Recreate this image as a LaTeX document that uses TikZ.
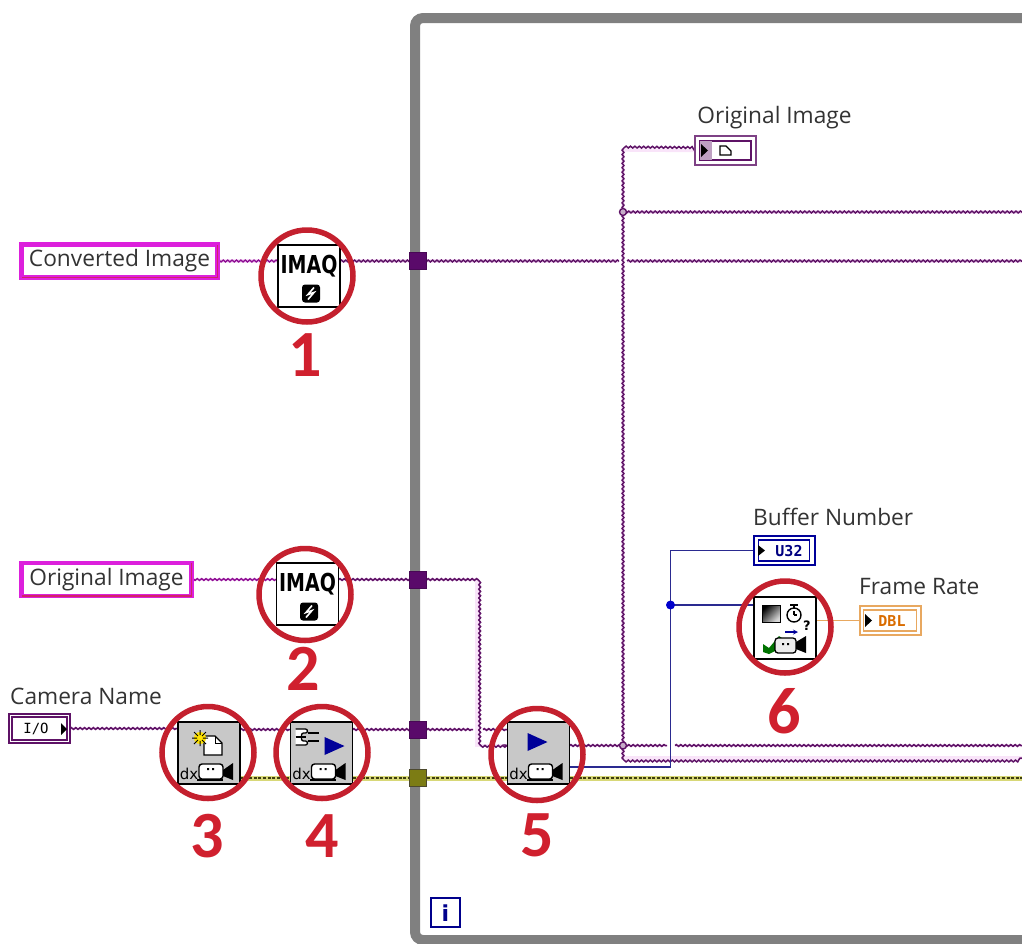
\documentclass[tikz,border=0pt]{standalone}
\usepackage{fontspec}
\setmainfont{Open Sans}
\newfontfamily\numfont{Carlito}
\newfontfamily\boxfont{DejaVu Sans}
\newfontfamily\codefont{DejaVu Sans Mono}
\usetikzlibrary{decorations.pathmorphing,calc}
\pgfdeclarelayer{framelayer}
\pgfdeclarelayer{wirelayer}
\pgfsetlayers{framelayer,wirelayer,main}
\definecolor{framegray}{HTML}{808080}
\definecolor{wirec}{HTML}{5E1266}
\definecolor{wirehalo}{HTML}{F9E4F9}
\definecolor{tunnelp}{HTML}{5A0A6A}
\definecolor{tunnelo}{HTML}{7C7C14}
\definecolor{magbox}{HTML}{DC20DC}
\definecolor{ringred}{HTML}{C4202E}
\definecolor{numred}{HTML}{D0202E}
\definecolor{iconblue}{HTML}{10108A}
\definecolor{bluewire}{HTML}{2A2A90}
\definecolor{orangew}{HTML}{E8A860}
\definecolor{grayicon}{HTML}{C8C8C8}
\definecolor{textgray}{HTML}{333333}
\definecolor{olivepale}{HTML}{D8D878}
\definecolor{olivedark}{HTML}{3E3E10}
\tikzset{
  x=1pt,y=-1pt,
  wire/.style={draw=wirehalo,line width=3.4pt,postaction={draw=wirec,line width=1.5pt,decorate,decoration={snake,segment length=4.4pt,amplitude=.9pt}}},
  magwire/.style={draw=wirehalo,line width=3.4pt,postaction={draw=wirec!70!magenta,line width=1.4pt,decorate,decoration={snake,segment length=4.4pt,amplitude=.9pt}}},
  olivewire/.style={draw=olivepale,line width=5pt,postaction={draw=olivedark,line width=2.6pt,dash pattern=on 3pt off 1.6pt}},
  bluew/.style={draw=bluewire,line width=1.5pt},
  orangewire/.style={draw=orangew,line width=1.4pt},
  tunnel/.style={draw=tunnelp!80!black,fill=tunnelp,minimum size=17pt,inner sep=0pt,outer sep=0pt},
  tunnelol/.style={draw=black!60!olive,fill=tunnelo,minimum size=17pt,inner sep=0pt,outer sep=0pt},
  whitebox/.style={draw=black,fill=white,line width=1.1pt,minimum size=62pt,inner sep=0pt,outer sep=0pt},
  graybox/.style={draw=black,fill=grayicon,line width=1.1pt,minimum size=62pt,inner sep=0pt,outer sep=0pt},
  ring/.style={draw=ringred,line width=5.5pt,circle,minimum size=92pt,inner sep=0pt,outer sep=0pt},
  num/.style={text=numred,font=\fontsize{66}{66}\selectfont\numfont\bfseries,inner sep=0pt},
  lbl/.style={text=textgray,font=\fontsize{22.7}{25}\selectfont,inner sep=0pt},
  magctl/.style={draw=magbox,line width=4.4pt,fill=white,text=textgray,font=\fontsize{22.7}{25}\selectfont,inner sep=0pt,outer sep=0pt,minimum height=33pt},
  termbox/.style={line width=2pt,fill=white,inner sep=0pt,outer sep=0pt,minimum height=29pt,minimum width=61pt},
  juncp/.style={circle,draw=wirec,fill=wirec!35,line width=1.4pt,minimum size=7pt,inner sep=0pt,outer sep=0pt},
  juncb/.style={circle,fill=blue!80!black,minimum size=9pt,inner sep=0pt,outer sep=0pt},
  imaqtext/.style={font=\fontsize{19}{19}\selectfont\boxfont\bfseries,inner sep=0pt},
  codetext/.style={font=\fontsize{15}{15}\selectfont\codefont\bfseries,inner sep=0pt},
  dxcam/.pic={
    \node[font=\fontsize{15}{15}\selectfont\boxfont,inner sep=0pt] at (-20,21) {dx};
    \draw[line width=1.4pt,fill=white,rounded corners=3pt] (-10,11) rectangle (14,26);
    \draw[line width=2.2pt] (-12,27) -- (14,27);
    \fill[black] (14,17) -- (24,10) -- (24,27) -- (14,23) -- cycle;
    \fill[black] (-2,15) rectangle (0,17) (3,15) rectangle (5,17);
  },
  bolt/.pic={
    \fill[black,rounded corners=3pt] (-9,-9) rectangle (9,9);
    \draw[white,line width=1.6pt] (3,-6) -- (-3,1) -- (3,-1) -- (-3,6);
  },
}
\begin{document}
\begin{tikzpicture}
\useasboundingbox (0,0) rectangle (1022,943);
% loop frame
\begin{pgfonlayer}{framelayer}
\coordinate (ftop) at (1022,18);
\coordinate (fbot) at (1022,940);
\draw[framegray,line width=10pt,rounded corners=8pt] (ftop) -- (415,18) -- (415,940) -- (fbot);
\end{pgfonlayer}

% terminals and nodes
\node[magctl,minimum width=196pt] (conv) at (119.5,261) {Converted Image};
\node[magctl,minimum width=170pt] (orig) at (106.5,579.5) {Original Image};
\node[lbl,anchor=west] (camlbl) at (10,696) {Camera Name};
\node[termbox,draw=wirec] (cam) at (39.5,728.5) {};
\node[lbl] (origlbl) at (774.5,118) {Original Image};
\node[termbox,draw=wirec!80] (origind) at (725.5,150.5) {};
\node[lbl,anchor=west] (buflbl) at (753,517) {Buffer Number};
\node[termbox,draw=blue!60!black] (u32) at (784,550.5) {};
\node[lbl,anchor=west] (frlbl) at (859,586) {Frame Rate};
\node[termbox,draw=orangew] (dbl) at (890,620.5) {};

\node[whitebox] (imaq1) at (309,276) {};
\node[whitebox] (imaq2) at (307.5,594) {};
\node[graybox] (b3) at (209,753) {};
\node[graybox] (b4) at (321.5,753) {};
\node[graybox] (b5) at (538.5,753) {};
\node[whitebox] (b6) at (785,628) {};

\node[tunnel] (t1) at (418,261) {};
\node[tunnel] (t2) at (418,579.5) {};
\node[tunnel] (t3) at (418,729.5) {};
\node[tunnelol] (t4) at (418,778) {};

\coordinate (r212) at (1022,212);
\coordinate (r261) at (1022,261);
\coordinate (r745) at (1022,745.5);
\coordinate (r758) at (1022,758);
\coordinate (r778) at (1022,778);
\node[juncp] (j1) at (623,212) {};
\node[juncp] (j2) at (623,745.5) {};
\node[juncb] (j3) at (670.5,605) {};

% wires, behind the boxes
\begin{pgfonlayer}{wirelayer}
\draw[magwire] (conv.east) -- (imaq1.west |- conv.east);
\draw[wire] (imaq1.east |- t1) -- (t1.center);
\draw[wire] (t1.center) -- ($(j1.center |- t1)+(-4,0)$);
\draw[wire] ($(j1.center |- t1)+(4,0)$) -- (r261);
\draw[magwire] (orig.east) -- (imaq2.west |- orig.east);
\draw[wire] (imaq2.east |- t2) -- (t2.center);
\draw[wire] (t2.center) -- (477,579.5) -- (477,745.5) -- (b5.west |- j2);
\draw[wire] (cam.east) -- (b3.west |- cam.east);
\draw[wire] (b3.east |- t3) -- (b4.west |- t3);
\draw[wire] (b4.east |- t3) -- (t3.center);
\draw[wire] (t3.center) -- (473,729.5);
\draw[wire] (483,729.5) -- (b5.west |- t3);
\draw[wire] (b5.east |- j2) -- (j2.center);
\draw[wire] (j2.center) -- (667,745.5);
\draw[wire] (675,745.5) -- (r745);
\draw[wire] (j2.center) -- (623,150) -- (origind.west);
\draw[wire] (j1.center) -- (r212);
\draw[wire] (j2.center) -- (623,758) -- (r758);
\draw[olivewire] (b3.east |- t4) -- (b4.west |- t4);
\draw[olivewire] (b4.east |- t4) -- (t4.center);
\draw[olivewire] (t4.center) -- (b5.west |- t4);
\draw[olivewire] (b5.east |- t4) -- (r778);
\draw[bluew] (b5.east |- 0,767) -- (670.5,767) -- (670.5,550.5) -- (u32.west);
\draw[bluew] (j3.center) -- (b6.west |- j3);
\draw[orangewire] (b6.east |- dbl) -- (dbl.west);
\end{pgfonlayer}

% IMAQ icons
\node[imaqtext] (q1) at (309,266) {\scalebox{1}[1.3]{IMAQ}};
\pic at (311,293.5) {bolt};
\node[imaqtext] (q2) at (307.5,584) {\scalebox{1}[1.3]{IMAQ}};
\pic at (309,611.5) {bolt};

% icon 3
\pic at (b3) {dxcam};
\begin{scope}[shift={(b3)}]
  \draw[line width=1.2pt,fill=white] (-5,-17) -- (6,-17) -- (13,-10) -- (13,2) -- (-5,2) -- cycle;
  \draw[line width=.9pt] (6,-17) -- (6,-10) -- (13,-10);
  \fill[yellow!85!orange] (-9,-15) circle (6pt);
  \draw[black,line width=1pt] (-17,-15) -- (-1,-15) (-9,-23) -- (-9,-7) (-15,-21) -- (-3,-9) (-15,-9) -- (-3,-21);
  \fill[yellow!85!orange] (-9,-15) circle (3pt);
\end{scope}
% icon 4
\pic at (b4) {dxcam};
\begin{scope}[shift={(b4)}]
  \draw[line width=1.3pt,fill=white,rounded corners=2pt] (-26,-24) -- (-14,-24) -- (-14,-20) -- (-20,-20) -- (-20,-12) -- (-14,-12) -- (-14,-8) -- (-26,-8);
  \draw[line width=1.3pt] (-14,-20) -- (-3,-20) (-14,-12) -- (-3,-12) (-26,-16) -- (-16,-16);
  \fill[blue!60!black] (3,-16) -- (23,-7) -- (3,2) -- cycle;
\end{scope}
% icon 5
\pic at (b5) {dxcam};
\begin{scope}[shift={(b5)}]
  \fill[blue!60!black] (-11,-20) -- (9,-11) -- (-11,-2) -- cycle;
\end{scope}
% icon 6
\begin{scope}[shift={(b6)}]
  \shade[left color=black,right color=gray!30,shading angle=45] (-23,-23) rectangle (-5,-6);
  \draw[black,line width=.8pt] (-23,-23) rectangle (-5,-6);
  \draw[line width=1.4pt] (9,-13) circle (7pt);
  \draw[line width=1.2pt] (5,-23) -- (13,-23) (9,-23) -- (9,-20) (9,-13) -- (9,-17) (9,-13) -- (12,-13);
  \node[font=\fontsize{13}{13}\selectfont\boxfont\bfseries,inner sep=0pt] (qm) at (22,-2) {?};
  \draw[blue!60!black,line width=1.2pt,-stealth] (0,4) -- (13,4);
  \fill[green!45!black] (-22,16) -- (-16,20) -- (-6,8) -- (-3,10) -- (-8,22) -- (-16,26) -- (-22,24) -- cycle;
  \draw[line width=1.3pt,fill=gray!15,rounded corners=3pt] (-10,10) rectangle (11,25);
  \fill[black] (11,14) -- (21,8) -- (21,25) -- (11,21) -- cycle;
  \fill[black] (-3,15) rectangle (-1,17) (2,15) rectangle (4,17);
\end{scope}

% terminals contents
\draw[wirec,line width=1.4pt] ($(cam.north west)+(3,3)$) rectangle ($(cam.south east)+(-3,-3)$);
\node[font=\fontsize{14}{14}\selectfont\codefont,inner sep=0pt] (iotxt) at (36,729) {I/O};
\fill[black] (61,723) -- (67,729) -- (61,735) -- cycle;

\draw[wirec,line width=1.4pt] ($(origind.north west)+(5,5)$) rectangle ($(origind.south east)+(-5,-5)$);
\fill[wirec!40] (700,141) rectangle (712,160);
\fill[black] (701,144) -- (708,150.5) -- (701,157) -- cycle;
\draw[line width=1.3pt] (720,146) -- (726,146) -- (731,151) -- (731,155) -- (720,155) -- cycle;

\draw[blue!60!black,line width=1.3pt] ($(u32.north west)+(5,4)$) rectangle ($(u32.south east)+(-5,-4)$);
\fill[black] (758,545) -- (765,550.5) -- (758,556) -- cycle;
\node[codetext,text=blue!50!black] (u32t) at (789,551) {U32};

\draw[orangew,line width=1.3pt] ($(dbl.north west)+(4,4)$) rectangle ($(dbl.south east)+(-4,-4)$);
\fill[black] (865,614) -- (872,620.5) -- (865,627) -- cycle;
\node[codetext,text=orange!85!black] (dblt) at (892,621) {DBL};

% magenta controls: darker lower right edge
\draw[magenta!45!purple,line width=1.8pt] (conv.south west) -- (conv.south east) -- (conv.north east);
\draw[magenta!45!purple,line width=1.8pt] (orig.south west) -- (orig.south east) -- (orig.north east);

% iteration terminal
\node[draw=blue!55!black,line width=2.4pt,fill=white,minimum size=29pt,inner sep=0pt] (iter) at (445.5,912.5) {};
\node[font=\fontsize{22}{22}\selectfont\boxfont\bfseries,text=blue!55!black,inner sep=0pt] (itxt) at (445.5,913) {i};

% rings
\node[ring] (c1) at (307,276) {};
\node[ring] (c2) at (305,594.5) {};
\node[ring] (c3) at (208,752.5) {};
\node[ring] (c4) at (322,752.5) {};
\node[ring] (c5) at (537,754.5) {};
\node[ring] (c6) at (785,627) {};

% numbers
\node[num] (n1) at (305,355) {1};
\node[num] (n2) at (303,668.5) {2};
\node[num] (n3) at (207,836) {3};
\node[num] (n4) at (322,836) {4};
\node[num] (n5) at (537,835) {5};
\node[num] (n6) at (784,711) {6};
\end{tikzpicture}
\end{document}
